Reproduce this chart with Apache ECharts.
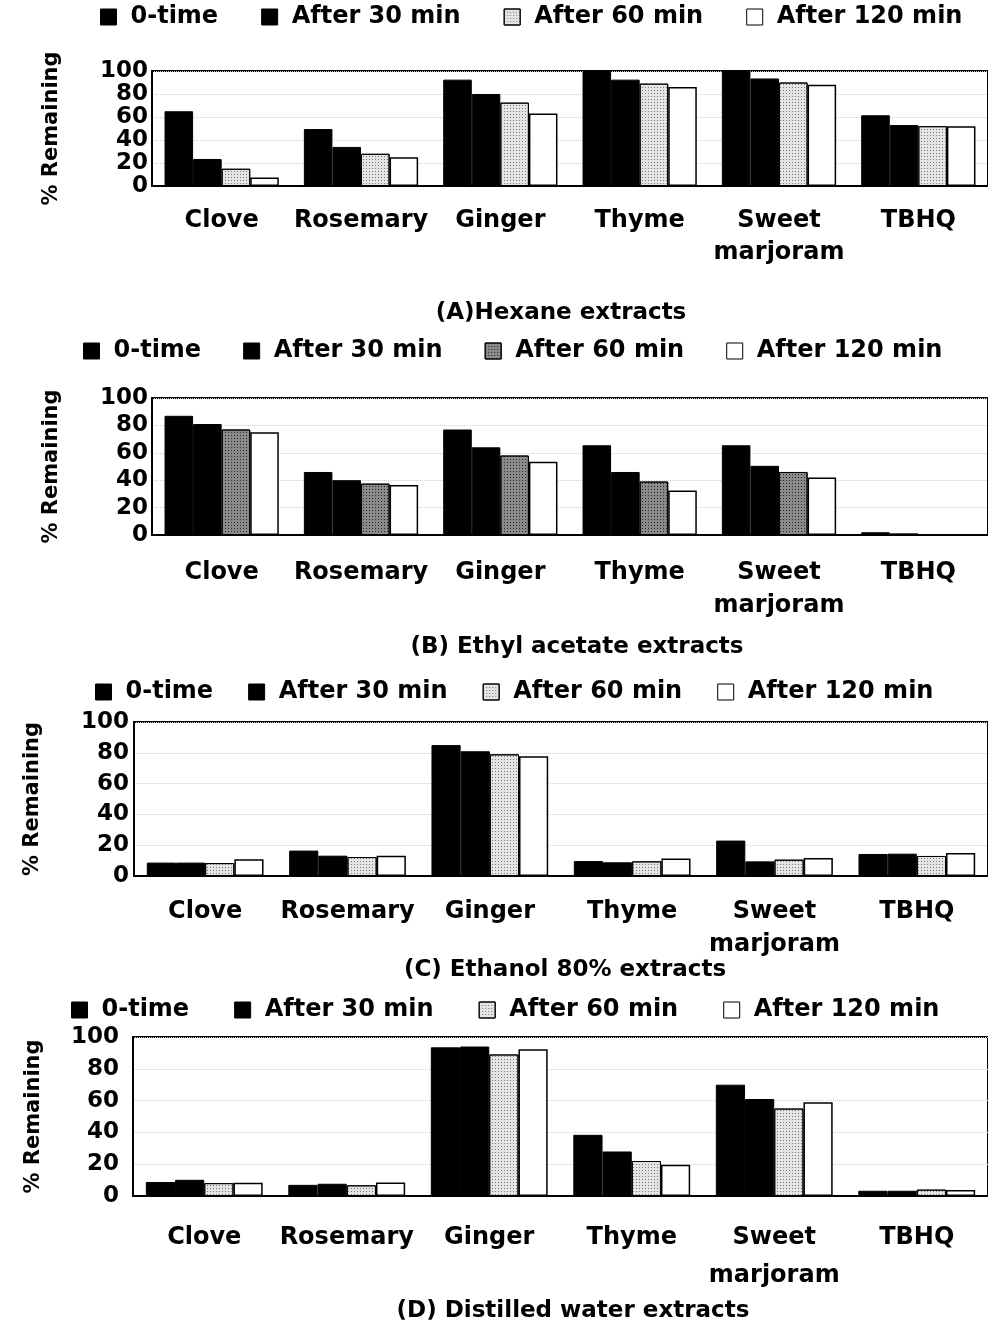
<!DOCTYPE html>
<html>
<head>
<meta charset="utf-8">
<script src="https://cdn.jsdelivr.net/npm/echarts@6/dist/echarts.min.js"></script>
<style>
html,body{margin:0;padding:0;background:#fff;}
#c{width:988px;height:1326px;}
</style>
</head>
<body>
<div id="c"></div>
<script>
const categories = ['Clove', 'Rosemary', 'Ginger', 'Thyme', 'Sweet\nmarjoram', 'TBHQ'];
const seriesNames = ['0-time', 'After 30 min', 'After 60 min', 'After 120 min'];
const yTicks = [0, 20, 40, 60, 80, 100];
const panelTitles = ['(A)Hexane extracts', '(B) Ethyl acetate extracts', '(C) Ethanol 80% extracts', '(D) Distilled water extracts'];

const hexane0   = [65, 49.5, 92.5, 100, 100, 61.5];
const hexane30  = [23.5, 34, 80, 92.5, 93.5, 53];
const hexane60  = [15, 28, 72.5, 89, 90, 52];
const hexane120 = [7.5, 25, 63, 86, 88, 52];

const ethyl0   = [87, 46, 77, 65.5, 65.5, 2];
const ethyl30  = [81, 40, 64, 46, 50.5, 1.2];
const ethyl60  = [77, 37.5, 58, 39, 46, 0.6];
const ethyl120 = [75, 36.5, 53.5, 32.5, 42, 0.3];

const ethanol0   = [8.7, 16.5, 85, 9.7, 23, 14.3];
const ethanol30  = [8.7, 13.2, 81, 8.9, 9.5, 14.5];
const ethanol60  = [8.4, 12.3, 79, 9.5, 10.6, 13];
const ethanol120 = [10.8, 13.2, 77.7, 11.3, 11.7, 15];

const water0   = [8.8, 7, 93.5, 38.5, 70, 3.3];
const water30  = [10.2, 7.7, 94, 28, 61, 3.3];
const water60  = [8.1, 6.7, 89, 22, 55, 4];
const water120 = [8.3, 8.5, 92.3, 19.6, 59, 3.7];

const panelData = [
  [hexane0, hexane30, hexane60, hexane120],
  [ethyl0, ethyl30, ethyl60, ethyl120],
  [ethanol0, ethanol30, ethanol60, ethanol120],
  [water0, water30, water60, water120]
];

// layout (pixels)
const FONT = '"DejaVu Sans", Verdana, sans-serif';
const grids = [
  {left: 152, right: -3, top: 71, height: 115},
  {left: 152, right: -3, top: 398, height: 137},
  {left: 134, right: -3, top: 722, height: 154},
  {left: 133, right: -3, top: 1037, height: 159}
];
const labelMargin = [19, 21, 19, 23];
const labelLineH = [32, 33, 33, 38];
const yLabelMargin = [4, 4, 5, 14];
const nameGap = [90, 90, 91, 89];
const legendPos = [
  {left: 95, top: 0, itemGap: 43},
  {left: 78, top: 334, itemGap: 42},
  {left: 90, top: 675, itemGap: 35},
  {left: 66, top: 993, itemGap: 45}
];
const titlePos = [
  {x: 556, y: 312}, {x: 572, y: 646}, {x: 560, y: 969}, {x: 568, y: 1310}
];

function styleFor(panel, k) {
  if (k === 0 || k === 1) return {color: '#000', borderColor: '#000', borderWidth: 1};
  if (k === 2) {
    const dark = panel === 1;
    return {
      color: dark ? '#8a8a8a' : '#e4e4e4',
      borderColor: '#000', borderWidth: 1,
      decal: {symbol: 'rect', symbolSize: 1, color: dark ? '#2a2a2a' : '#7a7a7a',
              dashArrayX: [1, 2], dashArrayY: [1, 2], rotation: 0}
    };
  }
  return {color: '#fff', borderColor: '#000', borderWidth: 1.5};
}

const option = {
  backgroundColor: '#fff',
  animation: false,
  aria: {enabled: false},
  title: panelTitles.map((t, i) => ({
    text: t, left: titlePos[i].x, top: titlePos[i].y - 15, textAlign: 'center',
    textStyle: {fontFamily: FONT, fontWeight: 'bold', fontSize: 23, color: '#000'}
  })),
  legend: legendPos.map((p, i) => ({
    left: p.left, top: p.top, itemGap: p.itemGap, itemWidth: 16, itemHeight: 16,
    icon: 'rect', selectedMode: false,
    textStyle: {fontFamily: FONT, fontWeight: 'bold', fontSize: 24, color: '#000', padding: [0, 0, 0, 9]},
    data: seriesNames.map((n, k) => ({name: n, itemStyle: Object.assign({}, styleFor(i, k), {borderWidth: 1})}))
  })),
  grid: grids.map(g => Object.assign({show: true, borderColor: '#000', borderWidth: 2, backgroundColor: 'transparent'}, g)),
  xAxis: grids.map((g, i) => ({
    type: 'category', gridIndex: i, data: categories,
    axisLine: {show: true, lineStyle: {color: '#000', width: 2}},
    axisTick: {show: false},
    axisLabel: {interval: 0, margin: labelMargin[i], lineHeight: labelLineH[i],
      fontFamily: FONT, fontWeight: 'bold', fontSize: 24, color: '#000'}
  })),
  yAxis: grids.map((g, i) => ({
    type: 'value', gridIndex: i, min: yTicks[0], max: yTicks[yTicks.length - 1],
    interval: yTicks[1] - yTicks[0],
    name: '% Remaining', nameLocation: 'middle', nameGap: nameGap[i],
    nameTextStyle: {fontFamily: FONT, fontWeight: 'bold', fontSize: 21, color: '#000'},
    axisLine: {show: true, lineStyle: {color: '#000', width: 2}},
    axisTick: {show: false},
    splitLine: {show: true, lineStyle: {type: 'dotted', color: '#d0d0d0', width: 1}},
    axisLabel: {margin: yLabelMargin[i], fontFamily: FONT, fontWeight: 'bold', fontSize: 23, color: '#000'}
  })),
  series: []
};

panelData.forEach((arrs, i) => {
  arrs.forEach((vals, k) => {
    option.series.push({
      type: 'bar', name: seriesNames[k], xAxisIndex: i, yAxisIndex: i,
      data: vals, barGap: '0%', barCategoryGap: '18%',
      itemStyle: styleFor(i, k)
    });
  });
});

const chart = echarts.init(document.getElementById('c'), null, {renderer: 'canvas'});
chart.setOption(option);
</script>
</body>
</html>
